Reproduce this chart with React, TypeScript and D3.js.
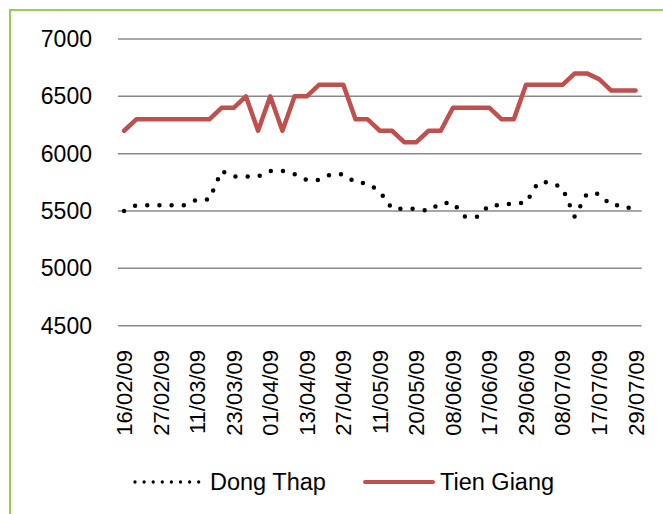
import React from "react";
import * as d3 from "d3";

const dates = [
  "16/02/09","","","27/02/09","","","11/03/09","","","23/03/09","","","01/04/09","","","13/04/09","","","27/04/09","","","11/05/09","","","20/05/09","","","08/06/09","","","17/06/09","","","29/06/09","","","08/07/09","","","17/07/09","","","29/07/09",
];

const dongThap = [
  5500,5550,5550,5550,5550,5550,5600,5600,5850,5800,5800,5800,5850,5850,5820,5770,5770,5820,5820,5750,5740,5670,5520,5520,5520,5500,5570,5570,5450,5450,5550,5550,5570,5570,5750,5750,5700,5450,5650,5650,5550,5550,5500,
];

const tienGiang = [
  6200,6300,6300,6300,6300,6300,6300,6300,6400,6400,6500,6200,6500,6200,6500,6500,6600,6600,6600,6300,6300,6200,6200,6100,6100,6200,6200,6400,6400,6400,6400,6300,6300,6600,6600,6600,6600,6700,6700,6650,6550,6550,6550,
];

const yTicks = [4500, 5000, 5500, 6000, 6500, 7000];

const seriesNames = ["Dong Thap", "Tien Giang"];

const FONT = "'Liberation Sans', Arial, sans-serif";

export default function App() {
  const W = 663, H = 514;
  const x = d3
    .scalePoint<number>()
    .domain(d3.range(dates.length))
    .range([118, 641.7])
    .padding(0.5);
  const y = d3.scaleLinear().domain([4500, 7000]).range([325.7, 39]);

  const line = d3
    .line<number>()
    .x((_, i) => x(i)!)
    .y((d) => y(d));

  return (
    <svg
      width={W}
      height={H}
      style={{ position: "absolute", left: 0, top: 0, background: "#fff" }}
      fontFamily={FONT}
    >
      <rect x={0} y={0} width={W} height={H} fill="#fff" />
      {/* green frame */}
      <line x1={9} y1={10} x2={W} y2={10} stroke="#92D050" strokeWidth={2} />
      <line x1={10} y1={9} x2={10} y2={H} stroke="#92D050" strokeWidth={2} />

      {/* gridlines */}
      {yTicks.map((t) => (
        <g key={t}>
          <line x1={118} x2={641.7} y1={y(t)} y2={y(t)} stroke="#8a8a8a" strokeWidth={1.5} />
          <text x={92} y={y(t)} dy="0.35em" textAnchor="end" fontSize={23} fill="#000">
            {t}
          </text>
        </g>
      ))}

      {/* x labels */}
      {dates.map((d, i) =>
        d ? (
          <text
            key={i}
            transform={`translate(${x(i)},350) rotate(-90)`}
            dy="0.36em"
            textAnchor="end"
            fontSize={22}
            fill="#000"
          >
            {d}
          </text>
        ) : null
      )}

      {/* series */}
      <path
        d={line(tienGiang)!}
        fill="none"
        stroke="#C0504D"
        strokeWidth={4.5}
        strokeLinejoin="round"
        strokeLinecap="round"
      />
      <path
        d={line(dongThap)!}
        fill="none"
        stroke="#000"
        strokeWidth={4.5}
        strokeDasharray="0 12.2"
        strokeLinecap="round"
      />

      {/* legend */}
      <line
        x1={135}
        x2={200}
        y1={482}
        y2={482}
        stroke="#000"
        strokeWidth={3.3}
        strokeDasharray="0 9.1"
        strokeLinecap="round"
      />
      <text x={210} y={490} fontSize={23.5} fill="#000">
        {seriesNames[0]}
      </text>
      <line
        x1={365}
        x2={433}
        y1={482}
        y2={482}
        stroke="#C0504D"
        strokeWidth={4}
        strokeLinecap="round"
      />
      <text x={440} y={490} fontSize={23.5} fill="#000">
        {seriesNames[1]}
      </text>
    </svg>
  );
}
